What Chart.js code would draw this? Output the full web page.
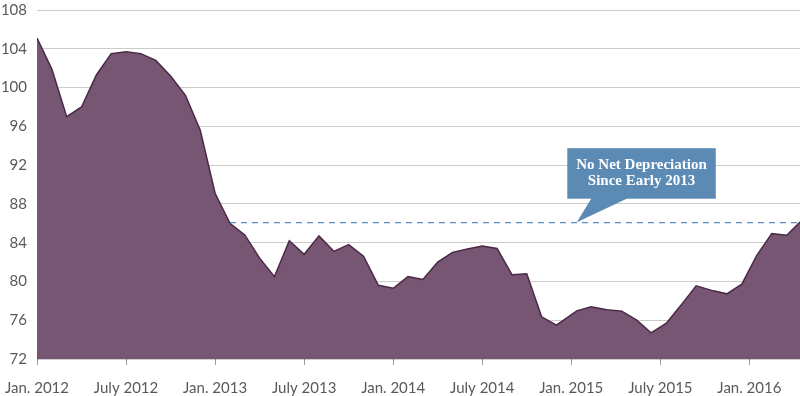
<!DOCTYPE html>
<html>
<head>
<meta charset="utf-8">
<script src="https://cdn.jsdelivr.net/npm/chart.js@4"></script>
<style>
  html, body { margin: 0; padding: 0; background: #fff; }
  #wrap { width: 800px; height: 396px; }
</style>
</head>
<body>
<div id="wrap"><canvas id="chart"></canvas></div>
<script>
// months since Jan. 2012
const months = [
  0, 1, 2, 3, 4, 5, 6, 7, 8, 9, 10, 11,
  12, 13, 14, 15, 16, 17, 18, 19, 20, 21, 22, 23,
  24, 25, 26, 27, 28, 29, 30, 31, 32, 33, 34, 35,
  36.37, 37.33, 38.39, 39.4, 40.41, 41.37, 42.39, 43.4, 44.41, 45.57, 46.48, 47.49,
  48.5, 49.51, 50.52, 51.41
];
const indexValues = [
  105.1, 101.9, 97.0, 98.0, 101.3, 103.5, 103.7, 103.5, 102.8, 101.2, 99.2, 95.6,
  89.1, 86.0, 84.8, 82.4, 80.5, 84.2, 82.8, 84.7, 83.1, 83.8, 82.6, 79.6,
  79.3, 80.5, 80.2, 82.0, 83.0, 83.35, 83.65, 83.4, 80.7, 80.8, 76.35, 75.5,
  76.97, 77.38, 77.07, 76.94, 76.0, 74.7, 75.67, 77.56, 79.54, 79.03, 78.72, 79.72,
  82.7, 84.93, 84.76, 86.13
];
const tickMonths = [0, 6, 12, 18, 24, 30, 36, 42, 48];
const tickLabels = ['Jan. 2012', 'July 2012', 'Jan. 2013', 'July 2013', 'Jan. 2014',
  'July 2014', 'Jan. 2015', 'July 2015', 'Jan. 2016'];

// flat level since early 2013
const levelStart = 13;
const levelValue = 86.06;
const calloutAt = 36.37;
const calloutLines = ['No Net Depreciation', 'Since Early 2013'];

const callout = {
  id: 'callout',
  afterDraw(chart) {
    const ctx = chart.ctx;
    const tx = chart.scales.x.getPixelForValue(calloutAt);
    const ty = chart.scales.y.getPixelForValue(levelValue);
    const left = tx - 9.5, right = tx + 139, top = ty - 74.5, bottom = ty - 24;
    ctx.save();
    ctx.fillStyle = '#5b8ab5';
    ctx.fillRect(left, top, right - left, bottom - top);
    ctx.beginPath();
    ctx.moveTo(tx + 15, bottom - 1);
    ctx.lineTo(tx + 52, bottom - 1);
    ctx.lineTo(tx, ty - 0.5);
    ctx.closePath();
    ctx.fill();
    ctx.fillStyle = '#ffffff';
    ctx.font = 'bold 15px "Liberation Serif", serif';
    ctx.textAlign = 'center';
    ctx.textBaseline = 'middle';
    const cx = (left + right) / 2;
    ctx.fillText(calloutLines[0], cx, top + 16.5);
    ctx.fillText(calloutLines[1], cx, top + 33);
    ctx.restore();
  }
};

new Chart(document.getElementById('chart'), {
  type: 'line',
  data: {
    datasets: [
      {
        data: [{ x: levelStart, y: levelValue }, { x: months[months.length - 1], y: levelValue }],
        borderColor: '#5a8cc2',
        borderWidth: 1.2,
        borderDash: [6, 5],
        pointRadius: 0,
        fill: false
      },
      {
        data: months.map((m, i) => ({ x: m, y: indexValues[i] })),
        borderColor: '#4a2947',
        borderWidth: 1.5,
        backgroundColor: '#765673',
        pointRadius: 0,
        tension: 0,
        fill: 'start'
      }
    ]
  },
  options: {
    responsive: true,
    maintainAspectRatio: false,
    animation: false,
    layout: { padding: { top: 10, right: 0, left: 0, bottom: 0 } },
    plugins: { legend: { display: false }, tooltip: { enabled: false } },
    scales: {
      x: {
        type: 'linear',
        min: 0,
        max: months[months.length - 1],
        afterBuildTicks: (scale) => {
          scale.ticks = tickMonths.map(v => ({ value: v }));
        },
        afterFit: (scale) => {
          scale.height = 37;
          scale.paddingLeft = 0;
          scale.paddingRight = 0;
        },
        grid: { drawOnChartArea: false, drawTicks: true, tickLength: 6, color: '#9a9a9a' },
        border: { display: false },
        ticks: {
          autoSkip: false,
          maxRotation: 0,
          padding: 14,
          color: '#58595b',
          font: { family: 'Lato', size: 15 },
          callback: (v, i) => tickLabels[i]
        }
      },
      y: {
        min: 72,
        max: 108,
        z: 1,
        afterFit: (scale) => {
          scale.width = 37;
          scale.paddingTop = 0;
          scale.paddingBottom = 0;
        },
        grid: { color: 'rgba(0,0,0,0.2)', drawTicks: false },
        border: { display: false },
        ticks: {
          stepSize: 4,
          padding: 10,
          color: '#58595b',
          font: { family: 'Lato', size: 15 }
        }
      }
    }
  },
  plugins: [callout]
});
</script>
</body>
</html>
